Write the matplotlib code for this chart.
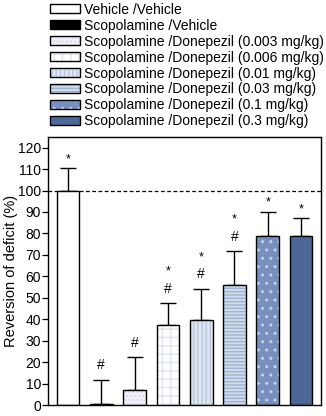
import numpy as np
import matplotlib
matplotlib.use("Agg")
import matplotlib.pyplot as plt
from matplotlib.patches import Patch

plt.rcParams['font.family'] = ['Liberation Sans', 'DejaVu Sans']
plt.rcParams['hatch.linewidth'] = 1.0

# Data
groups = ["Vehicle /Vehicle", "Scopolamine /Vehicle",
          "Scopolamine /Donepezil (0.003 mg/kg)",
          "Scopolamine /Donepezil (0.006 mg/kg)",
          "Scopolamine /Donepezil (0.01 mg/kg)",
          "Scopolamine /Donepezil (0.03 mg/kg)",
          "Scopolamine /Donepezil (0.1 mg/kg)",
          "Scopolamine /Donepezil (0.3 mg/kg)"]
means = [100, 0.5, 6.9, 37.2, 39.6, 56.1, 78.7, 78.7]
sems = [10.3, 11.2, 15.5, 10.3, 14.5, 15.5, 11.5, 8.5]
stars = ["*", "", "", "*", "*", "*", "*", "*"]
hashes = ["", "#", "#", "#", "#", "#", "", ""]

fills = ["white", "black", "#eef1f7", "#ffffff", "#dfe6f0", "#d0dbeb", "#7790bd", "#4d6796"]
hatch_cols = ["white", "black", "#d6dcea", "#dfe4ef", "#b9c8de", "#9fb2cf", "#c4d2ea", "#4d6796"]
hatches = [None, None, "....", "++", "||||", "-----", "..", None]

fig = plt.figure(figsize=(3.26, 4.16), dpi=100)
ax = fig.add_axes([0.147, 0.026, 0.838, 0.645])

x = np.arange(len(means))
w = 0.68
ax.bar(x, means, w, color=fills, edgecolor="none", linewidth=0, zorder=2)
for i in range(len(means)):
    if hatches[i]:
        ax.bar(x[i], means[i], w, facecolor="none", edgecolor=hatch_cols[i],
               hatch=hatches[i], linewidth=0, zorder=3)
ax.bar(x, means, w, facecolor="none", edgecolor="black", linewidth=1.0, zorder=4)
ax.errorbar(x, means, yerr=[np.zeros(len(sems)), sems], fmt="none",
            ecolor="black", elinewidth=1.0, capsize=6, capthick=1.0, zorder=1)

# significance marks above the error bars
top = [m + s for m, s in zip(means, sems)]
for i in range(len(means)):
    y = top[i] + 6.8
    if hashes[i]:
        ax.text(x[i], y, hashes[i], ha="center", va="center", fontsize=10)
        y += 9.5
    else:
        y -= 1.2
    if stars[i]:
        ax.text(x[i], y - 1.5, stars[i], ha="center", va="center", fontsize=9)

ax.axhline(100, color="black", linestyle=(0, (3, 2)), linewidth=0.9, zorder=0)

ax.set_xlim(-0.6, 7.6)
ax.set_ylim(0, 125)
ax.set_yticks(np.arange(0, 121, 10))
ax.set_xticks([])
ax.tick_params(axis="y", direction="out", length=4, width=0.9, labelsize=10, pad=1)
for sp in ax.spines.values():
    sp.set_linewidth(1.0)
ax.set_ylabel("Reversion of deficit (%)", fontsize=10.5, labelpad=0)

handles = []
for i in range(len(means)):
    parts = [Patch(facecolor=fills[i], edgecolor="none")]
    if hatches[i]:
        parts.append(Patch(facecolor="none", edgecolor=hatch_cols[i],
                           hatch=hatches[i], linewidth=0))
    parts.append(Patch(facecolor="none", edgecolor="black", linewidth=1.0))
    handles.append(tuple(parts))

fig.legend(handles, groups, loc="upper left", bbox_to_anchor=(0.145, 1.0),
           frameon=False, fontsize=10, handlelength=2.15, handleheight=0.6,
           labelspacing=0.14, handletextpad=0.3, borderaxespad=0,
           borderpad=0.2)

fig.savefig("out.png", dpi=100)
